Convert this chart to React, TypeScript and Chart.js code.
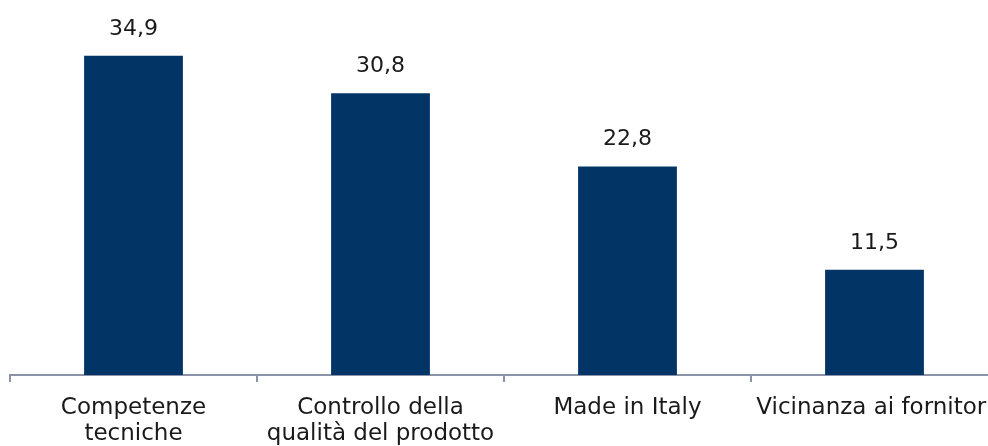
import React, { useEffect, useRef } from "react";
import { Chart, registerables } from "chart.js";

Chart.register(...registerables);

const categories: string[][] = [
  ["Competenze", "tecniche"],
  ["Controllo della", "qualità del prodotto"],
  ["Made in Italy"],
  ["Vicinanza ai fornitori"],
];
const values: number[] = [34.9, 30.8, 22.8, 11.5];
const valueLabels: string[] = ["34,9", "30,8", "22,8", "11,5"];

const FONT = "'DejaVu Sans', sans-serif";
const BAR = "#023466";
const AXIS = "#8c93a8";

const labelPlugin = {
  id: "valueLabels",
  afterDatasetsDraw(chart: any) {
    const ctx = chart.ctx;
    const meta = chart.getDatasetMeta(0);
    ctx.save();
    ctx.font = `22px ${FONT}`;
    ctx.fillStyle = "#1a1a1a";
    ctx.textAlign = "center";
    ctx.textBaseline = "bottom";
    meta.data.forEach((el: any, i: number) => {
      ctx.fillText(valueLabels[i], el.x, el.y - 16);
    });
    ctx.restore();
  },
};

export default function App() {
  const ref = useRef<HTMLCanvasElement | null>(null);
  useEffect(() => {
    if (!ref.current) return;
    const chart = new Chart(ref.current, {
      type: "bar",
      data: {
        labels: categories,
        datasets: [
          {
            data: values,
            backgroundColor: BAR,
            barPercentage: 0.4,
            categoryPercentage: 1,
          },
        ],
      },
      options: {
        responsive: false,
        animation: false,
        devicePixelRatio: 1,
        layout: { padding: { left: 10, right: 42, top: 0, bottom: 0 } },
        plugins: { legend: { display: false }, tooltip: { enabled: false } },
        scales: {
          y: { display: false, min: 0, max: 41 },
          x: {
            afterFit: (s: any) => {
              s.height = 71;
              s.paddingLeft = 0;
              s.paddingRight = 0;
            },
            border: { display: true, color: AXIS, width: 2 },
            grid: {
              display: true,
              drawOnChartArea: false,
              drawTicks: true,
              tickLength: 7,
              color: AXIS,
              lineWidth: 2,
              offset: true,
            },
            ticks: {
              color: "#1a1a1a",
              font: { family: FONT, size: 23, lineHeight: 1.12 },
              padding: 13,
              maxRotation: 0,
              autoSkip: false,
            },
          },
        },
      },
      plugins: [labelPlugin],
    });
    return () => chart.destroy();
  }, []);
  return (
    <div
      style={{
        position: "absolute",
        left: 0,
        top: 0,
        width: 988,
        height: 446,
        overflow: "hidden",
        background: "#fff",
      }}
    >
      <canvas ref={ref} width={1040} height={446} />
    </div>
  );
}
